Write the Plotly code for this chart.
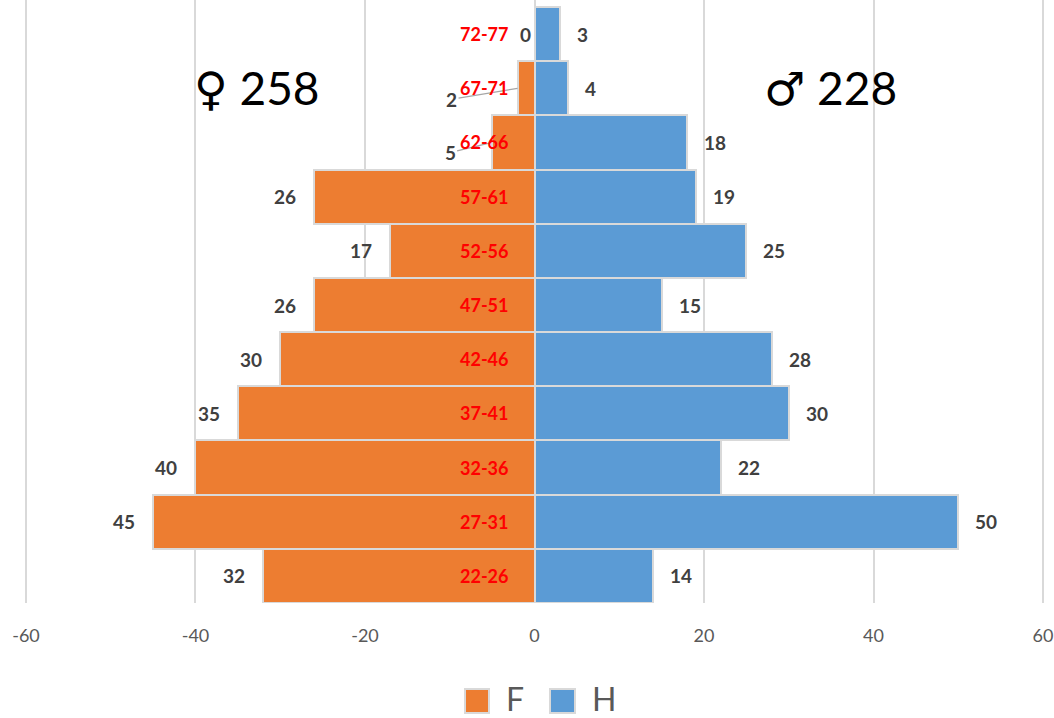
import plotly.graph_objects as go

# age groups, bottom to top
ages = ["22-26", "27-31", "32-36", "37-41", "42-46", "47-51",
        "52-56", "57-61", "62-66", "67-71", "72-77"]
femmes = [32, 45, 40, 35, 30, 26, 17, 26, 5, 2, 0]
hommes = [14, 50, 22, 30, 28, 15, 25, 19, 18, 4, 3]

tick_vals = [-60, -40, -20, 0, 20, 40, 60]
tick_text = ["-60", "-40", "-20", "0", "20", "40", "60"]

ORANGE = "#ED7D31"
BLUE = "#5B9BD5"
EDGE = "#D9D9D9"
LABEL = "#404040"
FONT = "Lato"

W, H = 1054, 718
ML, MR, MT, MB = 23, 8, 0, 115


def px_x(p):
    return (p - ML) / (W - ML - MR)


def px_y(p):
    return (H - MB - p) / (H - MT - MB)


fig = go.Figure()
fig.add_trace(
    go.Bar(
        y=ages,
        x=[-v for v in femmes],
        orientation="h",
        name="F",
        marker={"color": ORANGE, "line": {"color": EDGE, "width": 2}},
        showlegend=False,
    )
)
fig.add_trace(
    go.Bar(
        y=ages,
        x=hommes,
        orientation="h",
        name="H",
        marker={"color": BLUE, "line": {"color": EDGE, "width": 2}},
        showlegend=False,
    )
)

annotations = []
lbl_font = {"family": FONT, "size": 19, "color": LABEL, "weight": "bold"}

# value labels, women (left side)
for age, v in zip(ages, femmes):
    if v == 2:
        annotations.append(dict(
            x=-v, y=age, text=str(v), font=lbl_font, showarrow=True,
            arrowhead=0, arrowwidth=1.3, arrowcolor="#A6A6A6",
            ax=-66, ay=11, standoff=0,
        ))
    elif v == 5:
        annotations.append(dict(
            x=-v, y=age, text=str(v), font=lbl_font, showarrow=True,
            arrowhead=0, arrowwidth=1.3, arrowcolor="#A6A6A6",
            ax=-42, ay=10, standoff=2,
        ))
    else:
        annotations.append(dict(
            x=-v, y=age, text=str(v), font=lbl_font, showarrow=False,
            xanchor="right", xshift=-16 if v else -2,
        ))

# value labels, men (right side)
for age, v in zip(ages, hommes):
    annotations.append(dict(
        x=v, y=age, text=str(v), font=lbl_font, showarrow=False,
        xanchor="left", xshift=15,
    ))

# age group labels in the middle
for age in ages:
    annotations.append(dict(
        x=-6, y=age, text=age, showarrow=False,
        font={"family": FONT, "size": 18, "color": "#FF0000", "weight": "bold"},
    ))

# totals
big = {"family": FONT, "size": 46, "color": "#000000"}
sym = '<span style="font-family:DejaVu Sans">{}</span>'
annotations.append(dict(x=-32.8, y="67-71",
                        text=sym.format("♀") + f" {sum(femmes)}",
                        showarrow=False, font=big))
annotations.append(dict(x=34.9, y="67-71",
                        text=sym.format("♂") + f" {sum(hommes)}",
                        showarrow=False, font=big))

# legend (drawn by hand to get the large swatches)
leg_font = {"family": FONT, "size": 32, "color": "#595959"}
for lx, txt in [(504, "F"), (590, "H")]:
    annotations.append(dict(x=px_x(lx), y=px_y(698), xref="paper",
                            yref="paper", text=txt, showarrow=False,
                            font=leg_font, xanchor="left", yanchor="middle"))

shapes = [
    dict(type="rect", xref="paper", yref="paper",
         x0=px_x(465), x1=px_x(489), y0=px_y(713), y1=px_y(689),
         fillcolor=ORANGE, line={"color": EDGE, "width": 2}),
    dict(type="rect", xref="paper", yref="paper",
         x0=px_x(550), x1=px_x(575), y0=px_y(713), y1=px_y(689),
         fillcolor=BLUE, line={"color": EDGE, "width": 2}),
]

fig.update_layout(
    barmode="relative",
    bargap=0,
    width=W,
    height=H,
    margin={"l": ML, "r": MR, "t": MT, "b": MB},
    paper_bgcolor="white",
    plot_bgcolor="white",
    font={"family": FONT, "color": "#595959"},
    annotations=annotations,
    shapes=shapes,
)
fig.update_xaxes(
    range=[-60.35, 60.35],
    tickvals=tick_vals,
    ticktext=tick_text,
    tickfont={"size": 18, "color": "#595959", "family": FONT},
    ticks="outside",
    ticklen=16,
    tickcolor="rgba(0,0,0,0)",
    showgrid=True,
    gridcolor=EDGE,
    gridwidth=1.5,
    zeroline=False,
    showline=False,
)
fig.update_yaxes(
    categoryorder="array",
    categoryarray=ages,
    range=[-0.5, 10.63],
    showticklabels=False,
    showgrid=False,
    zeroline=False,
)

fig.write_html(
    "out.html",
    config={"displayModeBar": False},
    post_script="document.body.style.margin='0';",
)
